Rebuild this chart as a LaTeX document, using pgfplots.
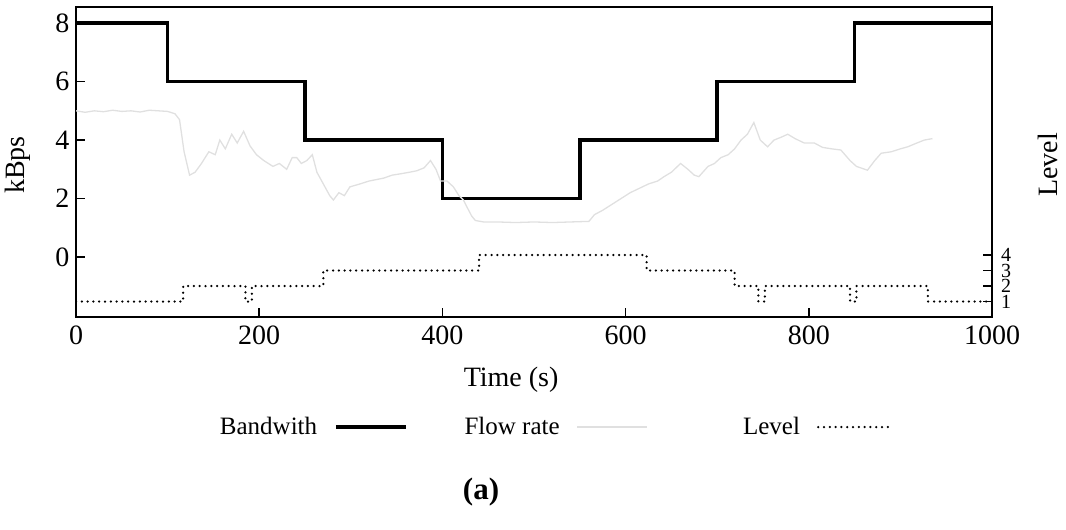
\documentclass[border=0pt]{standalone}
\usepackage{fontspec}
\setmainfont{Liberation Serif}
\usepackage{pgfplots}
\pgfplotsset{compat=1.18}
\usepackage{pgfplotstable}

% Measured flow rate (kBps) over time (s)
\pgfplotstableread{
t r
0 5.0
10 4.95
20 5.0
30 4.97
40 5.02
50 4.98
60 5.0
70 4.96
80 5.02
90 5.0
100 4.98
108 4.9
113 4.7
118 3.6
124 2.8
130 2.9
137 3.2
145 3.6
152 3.5
157 4.0
163 3.7
170 4.2
176 3.9
183 4.3
190 3.8
197 3.5
205 3.3
215 3.1
222 3.2
230 3.0
236 3.4
241 3.4
246 3.2
252 3.3
258 3.5
263 2.9
270 2.5
277 2.1
281 1.95
287 2.2
293 2.1
299 2.4
310 2.5
320 2.6
336 2.7
345 2.8
355 2.85
364 2.9
372 2.95
380 3.05
387 3.3
393 3.0
398 2.6
405 2.6
412 2.4
418 2.1
423 1.95
427 1.7
432 1.4
436 1.25
445 1.2
460 1.2
480 1.18
500 1.2
520 1.18
540 1.2
560 1.22
566 1.45
575 1.6
585 1.8
595 2.0
605 2.2
615 2.35
625 2.5
635 2.6
642 2.75
650 2.9
660 3.2
668 3.0
675 2.8
680 2.75
690 3.1
697 3.2
704 3.4
712 3.5
719 3.7
726 4.0
733 4.2
740 4.6
747 4.0
755 3.77
762 4.0
770 4.1
777 4.2
785 4.05
795 3.9
806 3.9
815 3.75
825 3.7
835 3.66
845 3.3
852 3.1
864 2.97
872 3.3
879 3.55
890 3.6
900 3.7
908 3.77
918 3.9
926 4.0
935 4.05
}\flowtable

% Available bandwidth (kBps), piecewise constant
\pgfplotstableread{
t b
0 8
100 6
250 4
400 2
550 4
700 6
850 8
1000 8
}\bwtable

% Quality level selected, piecewise constant
\pgfplotstableread{
t l
0 1
117 2
185 1
192 2
270 3
440 4
623 3
719 2
745 1
752 2
845 1
852 2
930 1
1000 1
}\leveltable

\definecolor{flowgray}{gray}{0.88}

\tikzset{leveldots/.style={line width=2.5pt, line cap=round, dash pattern=on 0pt off 5.8pt}}

\newcommand{\labelfont}{\fontsize{28}{32}\selectfont}
\newcommand{\keyfont}{\fontsize{25}{30}\selectfont}

\begin{document}
\begin{tikzpicture}
\useasboundingbox (0,0) rectangle (1066pt,-530pt);

\begin{axis}[
  at={(76pt,-317pt)}, anchor=south west,
  scale only axis, width=916pt, height=310pt,
  xmin=0, xmax=1000, ymin=-2.05, ymax=8.55,
  xtick={0,200,400,600,800,1000},
  ytick={0,2,4,6,8},
  xtick pos=bottom, ytick pos=left,
  tick align=inside,
  major tick length=9pt,
  every tick/.style={black, line width=1.5pt},
  axis line style={line width=1.6pt},
  /pgf/number format/assume math mode=true,
  /pgf/number format/set thousands separator={},
  tick label style={font=\labelfont},
  label style={font=\labelfont},
  xticklabel style={yshift=-5pt},
  yticklabel style={xshift=-3pt},
  xlabel={Time (s)},
  xlabel style={at={(axis description cs:0.475,-0.203)}, anchor=center},
  ylabel={kBps},
  ylabel style={at={(axis description cs:-0.0633,0.49)}, anchor=center},
  legend columns=3,
  legend plot pos=right,
  legend style={draw=none, fill=none, font=\keyfont,
    at={(axis description cs:0.52,-0.355)}, anchor=center,
    /tikz/every odd column/.append style={column sep=15pt},
    /tikz/every even column/.append style={column sep=50pt}},
  legend image code/.code={\draw[#1] (0pt,0pt) -- (70pt,0pt);},
  clip=false,
]
\addplot[const plot, black, line width=3.5pt] table[x=t, y=b] {\bwtable};
\addlegendentry{\makebox[100pt][r]{Bandwith}}
\addplot[flowgray, line width=1.3pt] table[x=t, y=r] {\flowtable};
\addlegendentry{\makebox[100pt][r]{Flow rate}}
\addlegendimage{black, leveldots}
\addlegendentry{\makebox[100pt][r]{Level}}
\end{axis}

\begin{axis}[
  at={(76pt,-317pt)}, anchor=south west,
  scale only axis, width=916pt, height=310pt,
  xmin=0, xmax=1000, ymin=0, ymax=20,
  axis line style={draw=none},
  xtick=\empty,
  ytick={1,2,3,4},
  ytick pos=right,
  tick align=inside,
  major tick length=9pt,
  every tick/.style={black, line width=1.5pt},
  /pgf/number format/assume math mode=true,
  yticklabel style={font=\fontsize{20}{22}\selectfont, inner sep=0pt,
    text height=13pt, text depth=0pt, anchor=west, xshift=9pt},
  label style={font=\labelfont},
  ylabel={Level},
  ylabel style={at={(axis description cs:1.061,0.49)}, anchor=center},
]
\addplot[const plot, black, leveldots] table[x=t, y=l] {\leveltable};
\end{axis}

\node[font=\fontsize{31}{36}\selectfont\bfseries] at (481pt,-492pt) {(a)};
\end{tikzpicture}
\end{document}
